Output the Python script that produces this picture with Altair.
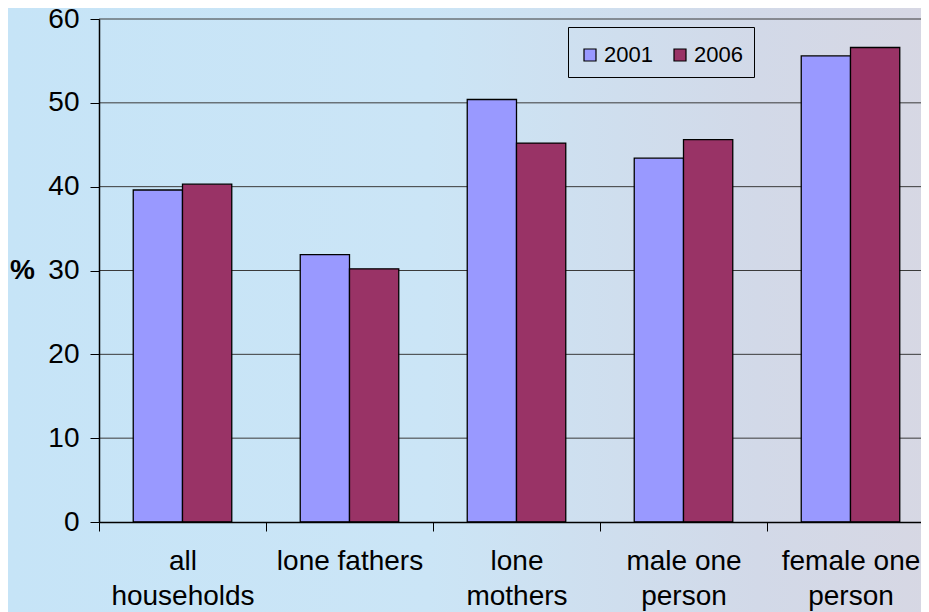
import altair as alt
import pandas as pd

categories = ["all\nhouseholds", "lone fathers", "lone\nmothers", "male one\nperson", "female one\nperson"]
years = ["2001", "2006"]
values_2001 = [39.6, 31.9, 50.4, 43.4, 55.6]
values_2006 = [40.3, 30.2, 45.2, 45.6, 56.6]
y_ticks = [0, 10, 20, 30, 40, 50, 60]
grid_values = [10, 20, 30, 40, 50, 60]
colors = ["#9999FF", "#993366"]

rows = []
for c, a, b in zip(categories, values_2001, values_2006):
    rows.append({"cat": c, "year": "2001", "val": a})
    rows.append({"cat": c, "year": "2006", "val": b})
df = pd.DataFrame(rows)

W, H = 835, 503
FONT = "Liberation Sans"

bg = alt.Chart(pd.DataFrame({"a": [0]})).mark_rect(
    clip=False,
    fill={"gradient": "linear", "x1": 0, "y1": 0, "x2": 1, "y2": 0,
          "stops": [{"offset": 0, "color": "#c6e4f7"},
                    {"offset": 0.45, "color": "#cbe5f6"},
                    {"offset": 0.8, "color": "#d2d9e8"},
                    {"offset": 1, "color": "#d7d7e3"}]},
).encode(x=alt.value(-91), x2=alt.value(W + 10), y=alt.value(-11), y2=alt.value(H + 100))

grid = alt.Chart(pd.DataFrame({"v": grid_values})).mark_rule(
    color="#3a3a3a", strokeWidth=1
).encode(y=alt.Y("v:Q", scale=alt.Scale(domain=[0, 60])))

bars = alt.Chart(df).mark_bar(stroke="black", strokeWidth=1.3).encode(
    x=alt.X("cat:N", sort=categories,
            scale=alt.Scale(paddingInner=0, paddingOuter=0),
            axis=alt.Axis(title=None, labelAngle=0, labelFontSize=28, labelFont=FONT,
                          labelColor="black", labelExpr="split(datum.label, '\\n')",
                          labelLineHeight=35, labelPadding=16, labelBaseline="top",
                          tickBand="extent", tickSize=9, tickColor="black",
                          domainColor="black", domainWidth=1.5, zindex=1,
                          labelLimit=300)),
    xOffset=alt.XOffset("year:N", sort=years,
                        scale=alt.Scale(paddingInner=0, paddingOuter=0.695)),
    y=alt.Y("val:Q", scale=alt.Scale(domain=[0, 60]),
            axis=alt.Axis(values=y_ticks, title="%", titleAngle=0, titleFontSize=28,
                          titleFont=FONT, titleFontWeight="bold", titleColor="black",
                          titleAlign="center", titleBaseline="middle",
                          titleX=-77, titleY=251,
                          labelFontSize=28, labelFont=FONT, labelColor="black",
                          labelPadding=11, tickSize=9, tickColor="black",
                          domainColor="black", domainWidth=1.5, grid=False, zindex=1)),
    color=alt.Color("year:N", sort=years,
                    scale=alt.Scale(domain=years, range=colors),
                    legend=alt.Legend(title=" ", titleFontSize=5, titlePadding=1,
                                      orient="none", legendX=469, legendY=8,
                                      direction="horizontal", symbolType="square",
                                      symbolSize=144, symbolStrokeColor="black",
                                      symbolStrokeWidth=1.2, symbolOpacity=1,
                                      labelFontSize=22, labelFont=FONT, labelColor="black",
                                      labelOffset=3, columnPadding=16, padding=11,
                                      strokeColor="black", fillColor="transparent")),
)

chart = alt.layer(bg, grid, bars).properties(
    width=W, height=H,
    autosize=alt.AutoSizeParams(type="none"),
    padding={"left": 91, "top": 11, "right": -13, "bottom": 95},
    background="#c8e6f8",
).configure_view(stroke=None)

chart.save("out.html", embed_options={"renderer": "svg", "actions": False})
